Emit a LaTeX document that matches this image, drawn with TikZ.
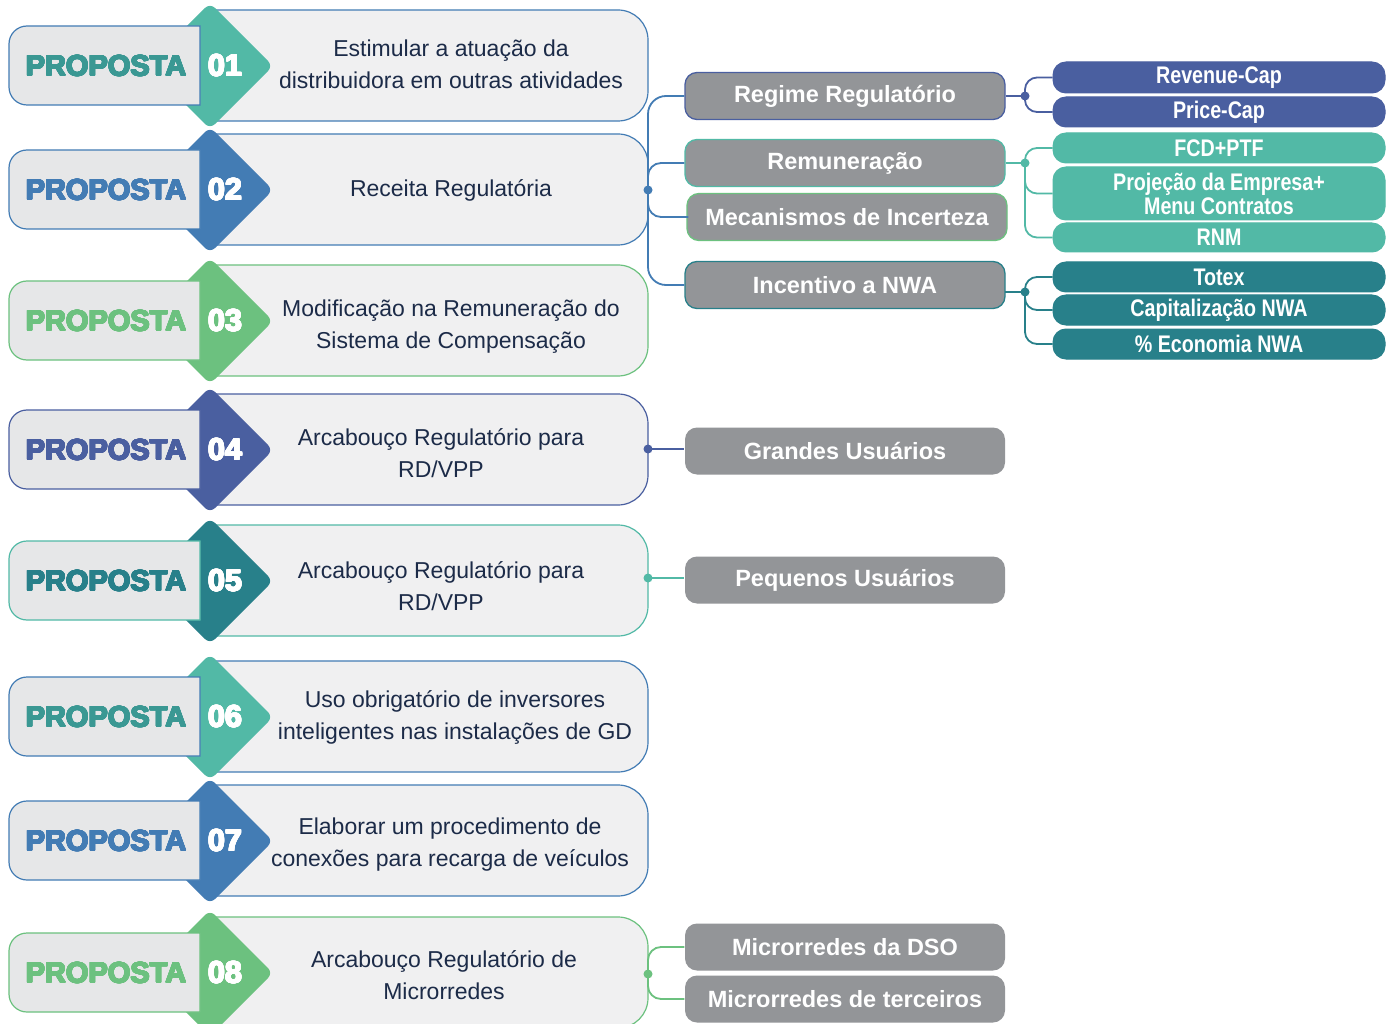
\documentclass[tikz,border=0pt]{standalone}
\usepackage{fontspec}
\usepackage[copies]{contour}
\contourlength{0.65pt}
\contournumber{20}
\setmainfont{Liberation Sans}
\newfontfamily\heavy{Liberation Sans Bold}
\newfontfamily\cond[FakeStretch=0.82]{Liberation Sans Bold}
\usetikzlibrary{calc}
\definecolor{cteal}{HTML}{52B9A6}
\definecolor{ctealtxt}{HTML}{3A9893}
\definecolor{cblue}{HTML}{437CB4}
\definecolor{cgreen}{HTML}{6CC17F}
\definecolor{cindigo}{HTML}{4A5FA0}
\definecolor{cdteal}{HTML}{28808A}
\definecolor{cgray}{HTML}{939598}
\definecolor{tbfill}{HTML}{F0F0F1}
\definecolor{pfill}{HTML}{E6E7E8}
\definecolor{desccol}{HTML}{1C2B48}
\newcommand\proprow[8]{%
  % text box
  \fill[tbfill,rounded corners=30] (210,#1-56) rectangle (648,#1+55);
  \fill[tbfill] (210,#1-56) rectangle (300,#1+55);
  \draw[#5,line width=1.2] (210,#1-56) [rounded corners=30] -- (648,#1-56) -- (648,#1+55) -- (210,#1+55);
  % diamond
  \fill[#3,rounded corners=7] (210,#1-63) -- (273,#1) -- (210,#1+63) -- (147,#1) -- cycle;
  % proposta box
  \draw[#5,fill=pfill,line width=1.2] (200,#1-40) -- (27,#1-40)
     arc[start angle=270,end angle=180,radius=18] -- (9,#1+21)
     arc[start angle=180,end angle=90,radius=18] -- (200,#1+39) -- cycle;
  \node[proptext,text=#4] (p#2l) at (106,#1) {\contour{#4}{PROPOSTA}};
  \node[numtext] (p#2n) at (225,#1) {\contour{white}{#2}};
  \node[desc] (p#2t) at (#7,#1+#8) {#6};
  \coordinate (p#2r) at (648,#1);
}
\begin{document}
\begin{tikzpicture}[x=1pt,y=-1pt,
  proptext/.style={font=\heavy\fontsize{29}{30}\selectfont,inner sep=0},
  numtext/.style={font=\heavy\fontsize{30.5}{32}\selectfont,text=white,inner sep=0},
  desc/.style={font=\fontsize{23}{32}\selectfont,text=desccol,align=center,inner sep=0},
  graybox/.style={rounded corners=12,fill=cgray,minimum width=320pt,minimum height=47pt,
    text=white,font=\bfseries\fontsize{23.5}{26}\selectfont,line width=1.3,inner sep=0},
  rbox/.style={rounded corners=13,minimum width=332pt,text=white,
    font=\cond\fontsize{24}{24}\selectfont,inner sep=0,align=center,line width=1},
  conn/.style={line width=1.8}]
\useasboundingbox (0,0) rectangle (1392,1024);
\fill[white] (0,0) rectangle (1392,1024);
\clip (0,0) rectangle (1392,1024);

\proprow{66}{01}{cteal}{ctealtxt}{cblue}{Estimular a atuação da\\distribuidora em outras atividades}{451}{-2}
\proprow{190}{02}{cblue}{cblue}{cblue}{Receita Regulatória}{451}{0}
\proprow{321}{03}{cgreen}{cgreen}{cgreen}{Modificação na Remuneração do\\Sistema de Compensação}{451}{6}
\proprow{450}{04}{cindigo}{cindigo}{cindigo}{Arcabouço Regulatório para\\RD/VPP}{441}{3}
\proprow{581}{05}{cdteal}{cdteal}{cteal}{Arcabouço Regulatório para\\RD/VPP}{441}{5}
\proprow{717}{06}{cteal}{ctealtxt}{cblue}{Uso obrigatório de inversores\\inteligentes nas instalações de GD}{455}{0}
\proprow{841}{07}{cblue}{cblue}{cblue}{Elaborar um procedimento de\\conexões para recarga de veículos}{450}{4}
\proprow{973}{08}{cgreen}{cgreen}{cgreen}{Arcabouço Regulatório de\\Microrredes}{444}{2}

% middle gray boxes
\node[graybox,draw=cindigo] (reg) at (845,96) {\raisebox{-1pt}{Regime Regulatório}};
\node[graybox,draw=cteal] (rem) at (845,163) {\raisebox{-1pt}{Remuneração}};
\node[graybox,draw=cgreen] (mec) at (847,217) {Mecanismos de Incerteza};
\node[graybox,draw=cdteal] (inc) at (845,285) {Incentivo a NWA};
\node[graybox] (gra) at (845,451) {Grandes Usuários};
\node[graybox] (peq) at (845,580) {\raisebox{-1pt}{Pequenos Usuários}};
\node[graybox] (mdso) at (845,947) {Microrredes da DSO};
\node[graybox] (mter) at (845,999) {Microrredes de terceiros};

% right boxes
\node[rbox,fill=cindigo,draw=cindigo,minimum height=31pt] (rev) at (1219,77.5) {Revenue-Cap};
\node[rbox,fill=cindigo,draw=cindigo,minimum height=30pt] (pri) at (1219,112) {Price-Cap};
\node[rbox,fill=cteal,draw=cteal,minimum height=30pt] (fcd) at (1219,148) {FCD+PTF};
\node[rbox,fill=cteal,draw=cteal,minimum height=53pt] (proj) at (1219,193.5) {Projeção da Empresa+\\Menu Contratos};
\node[rbox,fill=cteal,draw=cteal,minimum height=29pt] (rnm) at (1219,237.5) {RNM};
\node[rbox,fill=cdteal,draw=cdteal,minimum height=30pt] (tot) at (1219,277) {Totex};
\node[rbox,fill=cdteal,draw=cdteal,minimum height=30pt] (cap) at (1219,310) {Capitalização NWA};
\node[rbox,fill=cdteal,draw=cdteal,minimum height=30pt] (eco) at (1219,344) {\% Economia NWA};

% left connectors (proposta 02)
\draw[conn,cblue,rounded corners=18] (p02r) |- (reg.west);
\draw[conn,cblue,rounded corners=18] (p02r) |- (inc.west);
\draw[conn,cblue,rounded corners=13] (p02r) |- (rem.west);
\draw[conn,cblue,rounded corners=13] (p02r) |- ($(mec.west)+(2,0)$);
\fill[cblue] (p02r) circle (4.5pt);

% proposta 04, 05
\coordinate (d04) at (648,449);
\draw[conn,cindigo] (d04) -- (d04 -| gra.west);
\fill[cindigo] (d04) circle (4.5pt);
\coordinate (d05) at (648,578);
\draw[conn,cteal] (d05) -- (d05 -| peq.west);
\fill[cteal] (d05) circle (4.5pt);

% proposta 08
\coordinate (d08) at (648,974);
\draw[conn,cgreen,rounded corners=13] (d08) |- (mdso.west);
\draw[conn,cgreen,rounded corners=13] (d08) |- (mter.west);
\fill[cgreen] (d08) circle (4.5pt);

% right connectors
\coordinate (dreg) at (1025,96);
\draw[conn,cindigo] (reg.east) -- (dreg);
\draw[conn,cindigo,rounded corners=12] (dreg) |- (rev.west);
\draw[conn,cindigo,rounded corners=12] (dreg) |- (pri.west);
\fill[cindigo] (dreg) circle (4.5pt);

\coordinate (drem) at (1025,163);
\draw[conn,cteal] (rem.east) -- (drem);
\draw[conn,cteal,rounded corners=12] (drem) |- (fcd.west);
\draw[conn,cteal,rounded corners=12] (drem) |- (proj.west);
\draw[conn,cteal,rounded corners=12] (drem) |- (rnm.west);
\fill[cteal] (drem) circle (4.5pt);

\coordinate (dinc) at (1025,292);
\coordinate (incout) at (1005,292);
\draw[conn,cdteal] (incout) -- (dinc);
\draw[conn,cdteal,rounded corners=12] (dinc) |- (tot.west);
\draw[conn,cdteal,rounded corners=12] (dinc) |- (cap.west);
\draw[conn,cdteal,rounded corners=12] (dinc) |- (eco.west);
\fill[cdteal] (dinc) circle (4.5pt);
\end{tikzpicture}
\end{document}
